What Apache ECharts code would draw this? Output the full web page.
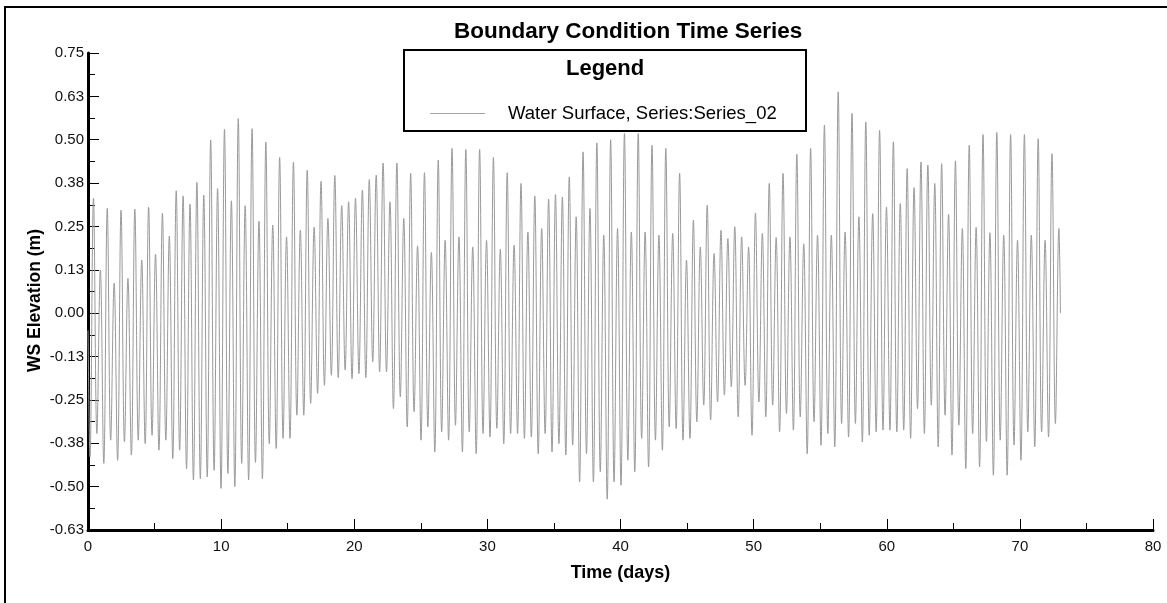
<!DOCTYPE html>
<html>
<head>
<meta charset="utf-8">
<script src="https://cdn.jsdelivr.net/npm/echarts@6/dist/echarts.min.js"></script>
<style>
  html, body { margin: 0; padding: 0; background: #ffffff; }
  #chart { width: 1167px; height: 603px; }
</style>
</head>
<body>
<div id="chart"></div>
<script>
// ---- Data (tidal extremes, metres) ----
const titleText = "Boundary Condition Time Series";
const seriesName = "Water Surface, Series:Series_02";
const xTickLabels = ["0", "10", "20", "30", "40", "50", "60", "70", "80"];

// successive high waters (one per tidal cycle)
const highs = [
  0.331, 0.124, 0.302, 0.087, 0.297, 0.100, 0.300, 0.153, 0.305, 0.170,
  0.288, 0.222, 0.353, 0.338, 0.314, 0.377, 0.340, 0.499, 0.359, 0.530,
  0.324, 0.561, 0.310, 0.532, 0.265, 0.493, 0.254, 0.449, 0.220, 0.435,
  0.239, 0.412, 0.248, 0.380, 0.273, 0.397, 0.310, 0.321, 0.331, 0.355,
  0.385, 0.398, 0.433, 0.321, 0.433, 0.273, 0.403, 0.194, 0.405, 0.175,
  0.441, 0.210, 0.475, 0.220, 0.472, 0.191, 0.472, 0.210, 0.449, 0.184,
  0.405, 0.196, 0.374, 0.234, 0.338, 0.244, 0.329, 0.342, 0.335, 0.393,
  0.278, 0.465, 0.302, 0.491, 0.225, 0.500, 0.244, 0.518, 0.234, 0.518,
  0.234, 0.484, 0.225, 0.475, 0.230, 0.403, 0.153, 0.268, 0.191, 0.311,
  0.172, 0.239, 0.215, 0.249, 0.220, 0.191, 0.289, 0.230, 0.374, 0.218,
  0.403, 0.220, 0.458, 0.200, 0.475, 0.225, 0.542, 0.225, 0.638, 0.234,
  0.576, 0.278, 0.551, 0.287, 0.527, 0.306, 0.494, 0.316, 0.417, 0.362,
  0.436, 0.427, 0.374, 0.431, 0.285, 0.439, 0.244, 0.484, 0.247, 0.515,
  0.232, 0.521, 0.225, 0.515, 0.210, 0.515, 0.225, 0.503, 0.210, 0.460,
  0.244
];

// successive low waters (one per tidal cycle)
const lows = [
  -0.414, -0.347, -0.433, -0.366, -0.424, -0.371, -0.409, -0.366, -0.376, -0.352,
  -0.395, -0.366, -0.419, -0.395, -0.448, -0.481, -0.477, -0.472, -0.453, -0.505,
  -0.462, -0.500, -0.433, -0.481, -0.430, -0.477, -0.376, -0.390, -0.361, -0.361,
  -0.294, -0.294, -0.260, -0.231, -0.208, -0.179, -0.186, -0.164, -0.189, -0.174,
  -0.186, -0.140, -0.169, -0.169, -0.275, -0.241, -0.328, -0.284, -0.366, -0.328,
  -0.400, -0.342, -0.366, -0.323, -0.400, -0.342, -0.405, -0.347, -0.357, -0.332,
  -0.376, -0.347, -0.347, -0.361, -0.357, -0.405, -0.347, -0.400, -0.376, -0.409,
  -0.380, -0.486, -0.405, -0.486, -0.457, -0.536, -0.486, -0.496, -0.424, -0.457,
  -0.361, -0.443, -0.366, -0.395, -0.328, -0.333, -0.366, -0.361, -0.313, -0.265,
  -0.308, -0.256, -0.236, -0.212, -0.299, -0.208, -0.352, -0.256, -0.299, -0.265,
  -0.342, -0.289, -0.337, -0.299, -0.405, -0.313, -0.381, -0.347, -0.385, -0.318,
  -0.357, -0.318, -0.371, -0.352, -0.342, -0.337, -0.337, -0.342, -0.337, -0.361,
  -0.275, -0.347, -0.265, -0.385, -0.294, -0.409, -0.323, -0.448, -0.347, -0.443,
  -0.370, -0.467, -0.366, -0.467, -0.380, -0.424, -0.342, -0.385, -0.342, -0.357,
  -0.318
];

const startLevel = -0.05;   // value at t = 0
const endLevel = 0.0;       // value at end of record
const endDay = 73.05;
// timing of extremes (semi-diurnal cycle, days)
const firstLowDay = 0.15;
const firstHighDay = 0.41;
const cycleDays = 0.518;

// ---- Build line data ----
const lineData = [[0, startLevel]];
for (let k = 0; k < highs.length; k++) {
  lineData.push([firstLowDay + k * cycleDays, lows[k]]);
  lineData.push([firstHighDay + k * cycleDays, highs[k]]);
}
lineData.push([endDay, endLevel]);

const chart = echarts.init(document.getElementById('chart'), null, { renderer: 'canvas' });
const font = '"Liberation Sans", Arial, sans-serif';

chart.setOption({
  animation: false,
  backgroundColor: '#ffffff',
  title: {
    text: titleText,
    left: 449,
    top: 15,
    textStyle: { fontFamily: font, fontSize: 22.5, fontWeight: 'bold', color: '#000' }
  },
  legend: {
    left: 425,
    top: 99,
    itemWidth: 55,
    itemHeight: 1,
    data: [{ name: seriesName, icon: 'rect' }],
    itemStyle: { color: '#a4a4a4', borderWidth: 0 },
    lineStyle: { width: 0 },
    textStyle: { fontFamily: font, fontSize: 18.5, color: '#000', padding: [0, 0, 0, 18] },
    selectedMode: false
  },
  grid: { left: 88, right: 14, top: 53, bottom: 73, containLabel: false },
  xAxis: {
    type: 'value',
    min: 0, max: 80, interval: 10,
    name: 'Time (days)',
    nameLocation: 'middle',
    nameGap: 34,
    nameMoveOverlap: false,
    nameTextStyle: { fontFamily: font, fontSize: 18, fontWeight: 'bold', color: '#000' },
    axisLine: { show: true, onZero: false, lineStyle: { color: '#000', width: 3 } },
    axisTick: { show: true, inside: true, length: 11, lineStyle: { color: '#000', width: 1 } },
    minorTick: { show: true, splitNumber: 2, length: 7, lineStyle: { color: '#000', width: 1 } },
    splitLine: { show: false },
    axisLabel: {
      fontFamily: font, fontSize: 15, color: '#111', margin: 9,
      formatter: (v) => xTickLabels[Math.round(v / 10)]
    }
  },
  yAxis: {
    type: 'value',
    min: -0.625, max: 0.75, interval: 0.125,
    name: 'WS Elevation (m)',
    nameLocation: 'middle',
    nameGap: 44,
    nameMoveOverlap: false,
    nameTextStyle: { fontFamily: font, fontSize: 17.5, fontWeight: 'bold', color: '#000', padding: [0, 18, 0, 0] },
    axisLine: { show: true, onZero: false, lineStyle: { color: '#000', width: 3 } },
    axisTick: { show: true, inside: true, length: 11, lineStyle: { color: '#000', width: 1 } },
    minorTick: { show: true, splitNumber: 2, length: 7, lineStyle: { color: '#000', width: 1 } },
    splitLine: { show: false },
    axisLabel: {
      fontFamily: font, fontSize: 15, color: '#111', margin: 4,
      formatter: (v) => v.toFixed(2)
    }
  },
  graphic: [
    {
      type: 'rect', z: 100, silent: true,
      shape: { x: 5, y: 7, width: 1200, height: 650 },
      style: { fill: 'none', stroke: '#000', lineWidth: 2 }
    },
    {
      type: 'rect', z: 0, silent: true,
      shape: { x: 404, y: 50, width: 402, height: 81 },
      style: { fill: '#ffffff', stroke: '#000', lineWidth: 2 }
    },
    {
      type: 'text', z: 1, silent: true,
      left: 566, top: 58,
      style: { text: 'Legend', font: 'bold 22px "Liberation Sans", Arial, sans-serif', fill: '#000' }
    }
  ],
  series: [{
    name: seriesName,
    type: 'line',
    data: lineData,
    showSymbol: false,
    symbol: 'none',
    smooth: 0.4,
    z: 2,
    lineStyle: { color: '#9a9a9a', width: 1 },
    itemStyle: { color: '#a4a4a4' }
  }]
});
</script>
</body>
</html>
